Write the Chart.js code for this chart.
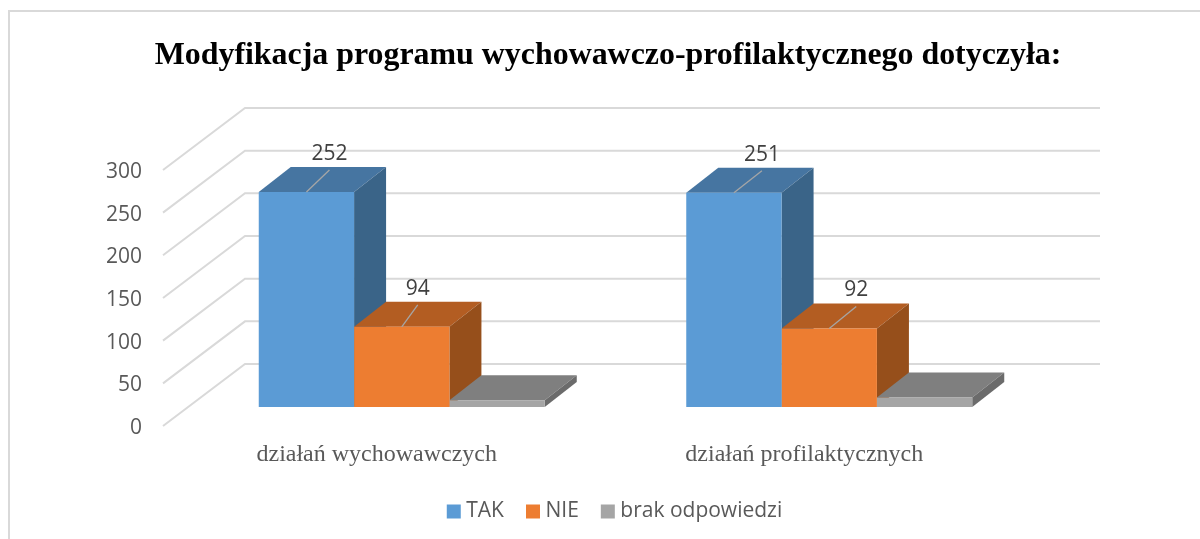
<!DOCTYPE html>
<html lang="pl">
<head>
<meta charset="utf-8">
<title>Modyfikacja programu</title>
<script src="https://cdn.jsdelivr.net/npm/chart.js@4"></script>
<style>html,body{margin:0;padding:0;background:#fff}#w{width:1200px;height:539px}</style>
</head>
<body>
<div id="w"><canvas id="c" width="1200" height="539"></canvas></div>
<script>
const titleText = 'Modyfikacja programu wychowawczo-profilaktycznego dotyczyła:';
const categories = ['działań wychowawczych', 'działań profilaktycznych'];
const seriesNames = ['TAK', 'NIE', 'brak odpowiedzi'];
const takValues = [252, 251];
const nieValues = [94, 92];
const brakValues = [8, 11];
const yTicks = [0, 50, 100, 150, 200, 250, 300];
const frontColors = ['#5B9BD5', '#ED7D31', '#A5A5A5'];
const topColors = ['#4675A1', '#B35D22', '#7F7F7F'];
const sideColors = ['#3A6488', '#964F1B', '#6B6B6B'];
const showLabels = [true, true, false];
const leaderDx = [[23, 28], [16, 27], [0, 0]];

// 3D projection: chart-area plane to back wall, and bar plane/depth
const WALL = {dx: 82, dy: -62};
const BAR = {dx: 25, dy: -19};
const DEPTH = {dx: 32, dy: -25};
const SERIF = '"Liberation Serif", serif';
const SANS = '"Open Sans", sans-serif';

const threeD = {
  id: 'threeD',
  afterLayout(chart) {
    chart.legend.left += 9;
    chart.legend.right += 9;
    chart.legend.adjustHitBoxes && chart.legend.adjustHitBoxes();
  },
  beforeDraw(chart) {
    const c = chart.ctx;
    c.save();
    c.strokeStyle = '#D9D9D9';
    c.lineWidth = 2;
    c.strokeRect(9, 11, 1300, 600);
    c.restore();
  },
  beforeDatasetsDraw(chart) {
    const c = chart.ctx, yS = chart.scales.y, a = chart.chartArea;
    c.save();
    c.strokeStyle = '#D9D9D9';
    c.lineWidth = 2;
    yS.ticks.forEach(t => {
      const p = yS.getPixelForValue(t.value);
      c.beginPath();
      c.moveTo(a.left, p);
      c.lineTo(a.left + WALL.dx, p + WALL.dy);
      c.lineTo(a.right + WALL.dx, p + WALL.dy);
      c.stroke();
    });
    c.restore();
    // depth faces first, in series order; library front faces then go on top
    c.save();
    c.translate(BAR.dx, BAR.dy);
    chart.data.datasets.forEach((ds, i) => {
      chart.getDatasetMeta(i).data.forEach(el => {
        const {x, y, base, width} = el.getProps(['x', 'y', 'base', 'width'], true);
        const l = x - width / 2, r = x + width / 2;
        c.fillStyle = topColors[i];
        c.beginPath();
        c.moveTo(l, y);
        c.lineTo(l + DEPTH.dx, y + DEPTH.dy);
        c.lineTo(r + DEPTH.dx, y + DEPTH.dy);
        c.lineTo(r, y);
        c.closePath();
        c.fill();
        c.fillStyle = sideColors[i];
        c.beginPath();
        c.moveTo(r, y);
        c.lineTo(r + DEPTH.dx, y + DEPTH.dy);
        c.lineTo(r + DEPTH.dx, base + DEPTH.dy);
        c.lineTo(r, base);
        c.closePath();
        c.fill();
      });
    });
  },
  afterDatasetsDraw(chart) {
    const c = chart.ctx;
    c.restore();
    c.save();
    chart.data.datasets.forEach((ds, i) => {
      if (!showLabels[i]) return;
      chart.getDatasetMeta(i).data.forEach((el, j) => {
        const {x, y} = el.getProps(['x', 'y'], true);
        const x0 = x + BAR.dx, y0 = y + BAR.dy;
        const x1 = x0 + leaderDx[i][j], y1 = y0 - 22;
        c.strokeStyle = '#A6A6A6';
        c.lineWidth = 1.3;
        c.beginPath();
        c.moveTo(x0, y0);
        c.lineTo(x1, y1);
        c.stroke();
        c.fillStyle = '#404040';
        c.font = '21px ' + SANS;
        c.textAlign = 'center';
        c.textBaseline = 'middle';
        c.fillText(String(ds.data[j]), x1, y1 - 16);
      });
    });
    c.restore();
  }
};

new Chart(document.getElementById('c'), {
  type: 'bar',
  plugins: [threeD],
  data: {
    labels: categories,
    datasets: [takValues, nieValues, brakValues].map((d, i) => ({
      label: seriesNames[i],
      data: d,
      backgroundColor: frontColors[i],
      borderWidth: 0,
      clip: false,
      categoryPercentage: 0.669,
      barPercentage: 1
    }))
  },
  options: {
    responsive: false,
    animation: false,
    events: [],
    layout: {padding: {left: 16, right: 0, top: 0, bottom: 7}},
    plugins: {
      tooltip: {enabled: false},
      title: {
        display: true,
        text: titleText,
        color: '#000000',
        font: {family: SERIF, size: 31.9, weight: 'bold'},
        padding: {top: 37, bottom: 94.7}
      },
      legend: {
        position: 'bottom',
        labels: {
          font: {family: SANS, size: 21},
          color: '#595959',
          boxWidth: 4,
          boxHeight: 4,
          padding: 27,
          generateLabels(chart) {
            return Chart.defaults.plugins.legend.labels.generateLabels(chart)
              .map(l => ({...l, lineWidth: 10, strokeStyle: l.fillStyle}));
          }
        }
      }
    },
    scales: {
      x: {
        grid: {display: false},
        border: {display: false},
        ticks: {font: {family: SERIF, size: 24}, color: '#595959', padding: 6, maxRotation: 0},
        afterFit(s) { s.height = 48; }
      },
      y: {
        min: 0,
        max: 300,
        grid: {display: false},
        border: {display: false},
        ticks: {
          font: {family: SANS, size: 21},
          color: '#595959',
          padding: 13,
          stepSize: 50,
          labelOffset: 2,
          callback: v => yTicks.includes(v) ? String(v) : ''
        },
        afterFit(s) { s.width = 147; }
      },
      pad: {
        position: 'right',
        display: true,
        grid: {display: false},
        border: {display: false},
        ticks: {display: false},
        afterFit(s) { s.width = 182; }
      }
    }
  }
});
</script>
</body>
</html>
